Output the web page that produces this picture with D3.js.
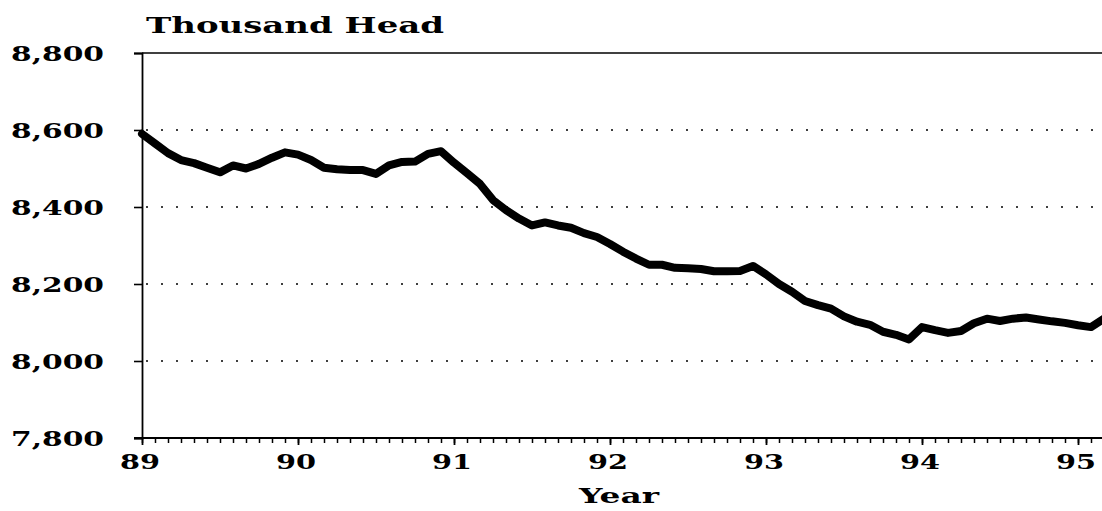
<!DOCTYPE html>
<html>
<head>
<meta charset="utf-8">
<script src="https://cdn.jsdelivr.net/npm/d3@7"></script>
<style>
  html, body { margin: 0; padding: 0; background: #fff; }
  svg { display: block; }
  text { font-family: "DejaVu Serif", serif; font-weight: bold; fill: #000; }
</style>
</head>
<body>
<svg id="chart" width="1102" height="511"></svg>
<script>
// Monthly cattle inventory (thousand head), Jan 1989 onward (index = months since Jan 89)
const monthIndex = d3.range(0, 75);
const headValues = [
  8590, 8565, 8540, 8522, 8514, 8502, 8490, 8508, 8500, 8512, 8528, 8542,
  8536, 8522, 8502, 8498, 8496, 8496, 8486, 8508, 8517, 8518, 8538, 8545,
  8515, 8488, 8460, 8418, 8392, 8370, 8352, 8360, 8352, 8346, 8332, 8322,
  8304, 8284, 8266, 8250, 8250, 8242, 8241, 8239, 8233, 8233, 8234, 8247,
  8225, 8200, 8180, 8156, 8145, 8136, 8116, 8102, 8094, 8076, 8068, 8056,
  8088, 8080, 8073, 8078, 8098, 8110, 8104, 8110, 8113, 8108, 8103, 8099,
  8093, 8088, 8110
];
const yearLabels = ["89", "90", "91", "92", "93", "94", "95"];
const yTickValues = [7800, 8000, 8200, 8400, 8600, 8800];
const gridValues = [8000, 8200, 8400, 8600];
const yTitle = "Thousand Head";
const xTitle = "Year";

const mLeft = 142, mRight = 1102, mTop = 53, mBottom = 438;

const svg = d3.select("#chart");

const x = d3.scaleLinear().domain([0, 72]).range([mLeft, 1078]);
const y = d3.scaleLinear().domain([7800, 8800]).range([mBottom, mTop]);

// dotted gridlines
svg.append("g").selectAll("line").data(gridValues).join("line")
  .attr("x1", mLeft + 4).attr("x2", mRight)
  .attr("y1", d => y(d)).attr("y2", d => y(d))
  .attr("stroke", "#000").attr("stroke-width", 1.6)
  .attr("stroke-dasharray", "2,13");

// top frame line
svg.append("line")
  .attr("x1", mLeft).attr("x2", mRight)
  .attr("y1", y(8800)).attr("y2", y(8800))
  .attr("stroke", "#000").attr("stroke-width", 1.5);

// y axis
const yAxis = d3.axisLeft(y).tickValues(yTickValues).tickSize(8).tickFormat("");
const gy = svg.append("g").attr("transform", `translate(${mLeft},0)`).call(yAxis);
gy.select(".domain").attr("stroke-width", 1.8);
gy.selectAll(".tick line").attr("stroke-width", 1.6);

svg.append("g").selectAll("text").data(yTickValues).join("text")
  .attr("x", 104).attr("y", d => y(d) + 7.5)
  .attr("text-anchor", "end")
  .attr("font-size", 20)
  .attr("textLength", 93).attr("lengthAdjust", "spacingAndGlyphs")
  .text(d => d3.format(",")(d));

// x axis: monthly minor ticks + yearly major ticks
const xAxisMinor = d3.axisBottom(x).tickValues(d3.range(0, 76)).tickSize(5).tickFormat("");
const gx = svg.append("g").attr("transform", `translate(0,${mBottom})`).call(xAxisMinor);
gx.select(".domain").remove();
gx.selectAll(".tick line").attr("stroke-width", 1.5);
svg.append("line")
  .attr("x1", mLeft - 8).attr("x2", mRight)
  .attr("y1", mBottom).attr("y2", mBottom)
  .attr("stroke", "#000").attr("stroke-width", 1.8);

const xAxisMajor = d3.axisBottom(x).tickValues(d3.range(0, 73, 12)).tickSize(7).tickFormat("");
const gx2 = svg.append("g").attr("transform", `translate(0,${mBottom})`).call(xAxisMajor);
gx2.select(".domain").remove();
gx2.selectAll(".tick line").attr("stroke-width", 1.8);

svg.append("g").selectAll("text").data(yearLabels).join("text")
  .attr("x", (d, i) => x(i * 12) - 2).attr("y", 469)
  .attr("text-anchor", "middle")
  .attr("font-size", 20)
  .attr("textLength", 40).attr("lengthAdjust", "spacingAndGlyphs")
  .text(d => d);

// titles
svg.append("text")
  .attr("x", 146).attr("y", 33)
  .attr("font-size", 22)
  .attr("textLength", 298).attr("lengthAdjust", "spacingAndGlyphs")
  .text(yTitle);

svg.append("text")
  .attr("x", 619).attr("y", 503)
  .attr("text-anchor", "middle")
  .attr("font-size", 20)
  .attr("textLength", 80).attr("lengthAdjust", "spacingAndGlyphs")
  .text(xTitle);

// data line
const line = d3.line().x((d, i) => x(monthIndex[i])).y(d => y(d));
svg.append("path")
  .datum(headValues)
  .attr("d", line)
  .attr("fill", "none")
  .attr("stroke", "#000")
  .attr("stroke-width", 8)
  .attr("stroke-linejoin", "round")
  .attr("stroke-linecap", "round");
</script>
</body>
</html>
